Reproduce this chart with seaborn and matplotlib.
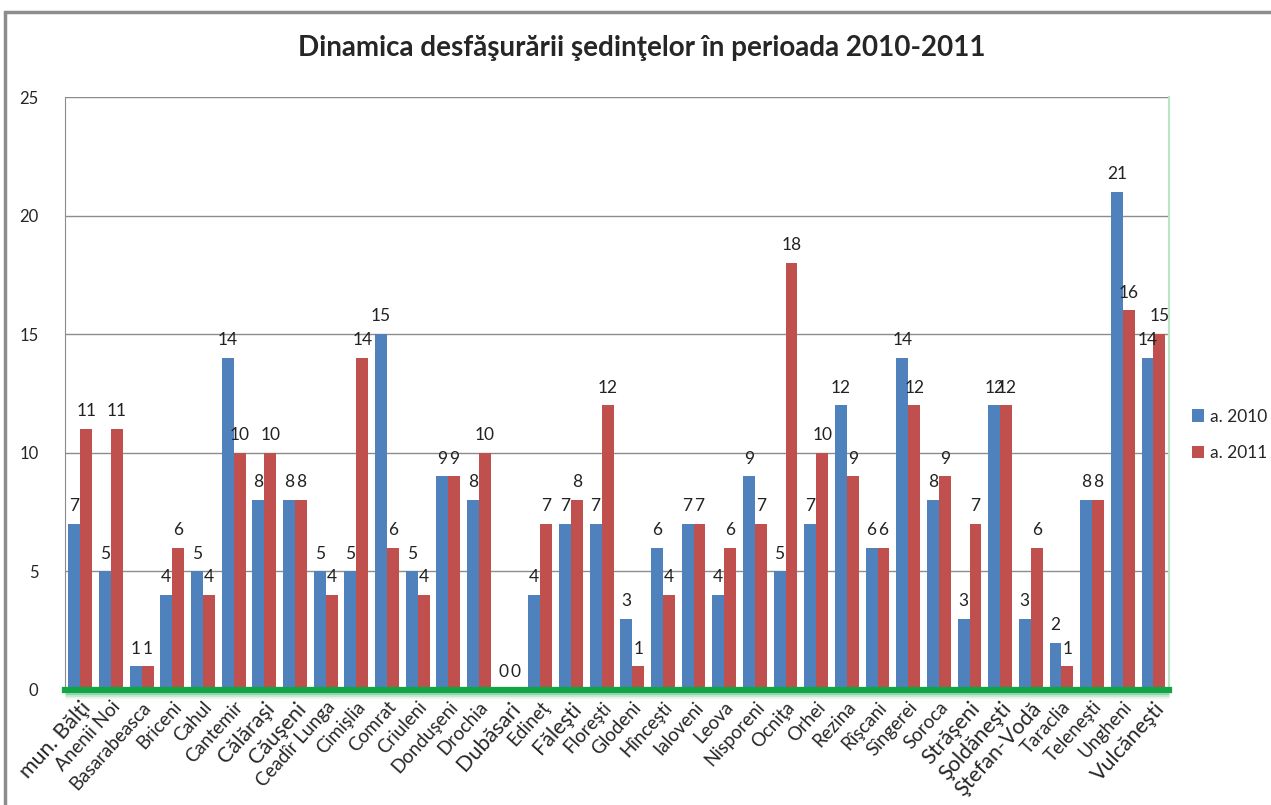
import matplotlib.pyplot as plt
import matplotlib.patches as mpatches
import matplotlib.transforms as mtransforms
import pandas as pd
import seaborn as sns

# Raioane and number of sittings
raioane = ["mun. Bălţi", "Anenii Noi", "Basarabeasca", "Briceni", "Cahul", "Cantemir",
           "Călăraşi", "Căuşeni", "Ceadîr Lunga", "Cimişlia", "Comrat", "Criuleni",
           "Donduşeni", "Drochia", "Dubăsari", "Edineţ", "Făleşti", "Floreşti",
           "Glodeni", "Hînceşti", "Ialoveni", "Leova", "Nisporeni", "Ocniţa",
           "Orhei", "Rezina", "Rîşcani", "Sîngerei", "Soroca", "Străşeni",
           "Şoldăneşti", "Ştefan-Vodă", "Taraclia", "Teleneşti", "Ungheni", "Vulcăneşti"]
sed_2010 = [7, 5, 1, 4, 5, 14, 8, 8, 5, 5, 15, 5, 9, 8, 0, 4, 7, 7,
            3, 6, 7, 4, 9, 5, 7, 12, 6, 14, 8, 3, 12, 3, 2, 8, 21, 14]
sed_2011 = [11, 11, 1, 6, 4, 10, 10, 8, 4, 14, 6, 4, 9, 10, 0, 7, 8, 12,
            1, 4, 7, 6, 7, 18, 10, 9, 6, 12, 9, 7, 12, 6, 1, 8, 16, 15]
big_labels = {"mun. Bălţi", "Călăraşi", "Căuşeni", "Dubăsari", "Făleşti",
              "Străşeni", "Şoldăneşti", "Ştefan-Vodă", "Vulcăneşti"}

df = pd.DataFrame({"raion": raioane * 2,
                   "sedinte": sed_2010 + sed_2011,
                   "an": ["a. 2010"] * len(raioane) + ["a. 2011"] * len(raioane)})

sns.set_style("white")
plt.rcParams["font.family"] = ["Lato", "DejaVu Sans"]

fig = plt.figure(figsize=(12.71, 8.05), dpi=100)
ax = fig.add_axes([0.0511, 0.1429, 0.8685, 0.7366])

# outer chart frame
fig.patches.append(mpatches.Rectangle((5 / 1271, -0.1), 1.2, 1 - 12 / 805 + 0.1,
                                      transform=fig.transFigure, fill=False,
                                      edgecolor="#8c8c8c", linewidth=2.5))

sns.barplot(data=df, x="raion", y="sedinte", hue="an", ax=ax,
            palette=["#4F81BD", "#C0504D"], width=0.78, gap=0, saturation=1,
            linewidth=0)

for cont in ax.containers:
    ax.bar_label(cont, padding=7, fontsize=12.5, color="#222222")

ax.set_ylim(0, 25)
ax.set_yticks([0, 5, 10, 15, 20, 25])
ax.set_xlim(-0.5, len(raioane) - 0.5)
ax.yaxis.grid(True, color="#8c8c8c", linewidth=1)
ax.set_axisbelow(True)
ax.set_xlabel("")
ax.set_ylabel("")
ax.tick_params(axis="y", length=5, color="#8c8c8c", labelsize=12, pad=14)
ax.tick_params(axis="x", length=0, pad=6)

ax.set_xticks(range(len(raioane)))
ax.set_xticklabels(raioane, rotation=48, ha="right", rotation_mode="anchor")
for lbl in ax.get_xticklabels():
    lbl.set_fontsize(15.5 if lbl.get_text() in big_labels else 13.5)

ax.spines["top"].set_visible(False)
ax.spines["left"].set_color("#8c8c8c")
ax.spines["right"].set_color("#b8e6c4")
ax.spines["right"].set_linewidth(1.5)
ax.spines["bottom"].set_color("#12a546")
ax.spines["bottom"].set_linewidth(4.5)

# soft glow under the base line
for off, alpha in [(3, 0.35), (5, 0.18), (7, 0.08)]:
    tr = mtransforms.offset_copy(ax.transAxes, fig=fig, y=-off, units="dots")
    ax.plot([0, 1], [0, 0], transform=tr, color="#12a546", lw=2.5,
            alpha=alpha, clip_on=False, solid_capstyle="butt")

leg = ax.legend(loc="center left", bbox_to_anchor=(1.015, 0.43), frameon=False,
                fontsize=12.5, handlelength=0.7, handleheight=0.7,
                handletextpad=0.3, labelspacing=1.2, borderaxespad=0)

fig.text(0.505, 0.94, "Dinamica desfăşurării şedinţelor în perioada 2010-2011",
         ha="center", va="center", fontsize=20, fontweight="bold")

plt.savefig("out.png", dpi=100)
plt.close()
